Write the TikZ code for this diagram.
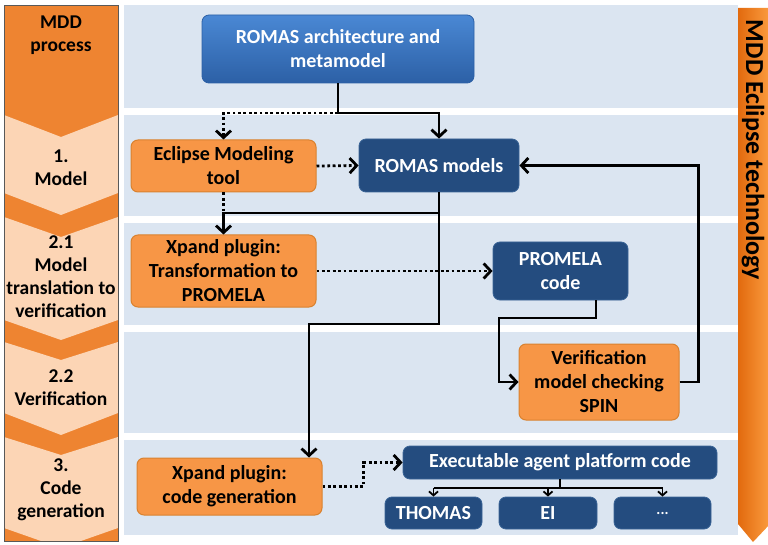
\documentclass[tikz,border=0pt]{standalone}
\usepackage{fontspec}
\setmainfont{Carlito}
\usetikzlibrary{arrows.meta}
\definecolor{lanec}{HTML}{DBE5F1}
\definecolor{colorange}{HTML}{EE8431}
\definecolor{peach}{HTML}{FCD5B5}
\definecolor{dkblue}{HTML}{244C7F}
\definecolor{dkblueb}{HTML}{3A6496}
\definecolor{orfill}{HTML}{F79646}
\definecolor{orborder}{HTML}{D98230}
\definecolor{bltop}{HTML}{4A88D4}
\definecolor{blbot}{HTML}{2C60A6}
\definecolor{bandL}{HTML}{E26A0E}
\definecolor{bandR}{HTML}{FB9C3F}
\begin{document}
\begin{tikzpicture}[x=1pt,y=-1pt,
  box/.style={rounded corners=7pt, inner sep=0pt, align=center, font=\bfseries\fontsize{20}{24}\selectfont},
  bluebox/.style={box, fill=dkblue, draw=dkblueb, line width=0.8pt, text=white},
  orbox/.style={box, fill=orfill, draw=orborder, line width=1pt, text=black},
  smallbox/.style={bluebox, font=\bfseries\fontsize{20}{22}\selectfont},
  solidcon/.style={line width=2.8pt, -{Straight Barb[length=7pt,width=15pt,line width=2.8pt]}},
  dotcon/.style={line width=2.8pt, dash pattern=on 2.8pt off 2.6pt},
  dotarrow/.style={dotcon, -{Straight Barb[length=7pt,width=15pt,line width=2.8pt]}},
  thincon/.style={line width=1.8pt},
  thinarrow/.style={line width=1.8pt, -{Straight Barb[length=4pt,width=9pt,line width=1.8pt]}},
  steptext/.style={align=center, font=\bfseries\fontsize{19.5}{23}\selectfont, text=black, inner sep=0pt}
]
\useasboundingbox (0,0) rectangle (768,545);
\fill[white] (0,0) rectangle (768,545);

% lanes
\fill[lanec] (124,5) rectangle (738,108);
\fill[lanec] (124,115) rectangle (738,216);
\fill[lanec] (124,223) rectangle (738,325);
\fill[lanec] (124,332) rectangle (738,433);
\fill[lanec] (124,440) rectangle (738,535);

% left process column
\begin{scope}
\clip (4,5) rectangle (118,541);
\fill[colorange] (4,5) rectangle (118,541);
\fill[peach] (4,115) -- (61,137) -- (118,115) -- (118,193) -- (61,215) -- (4,193) -- cycle;
\fill[peach] (4,217) -- (61,237) -- (118,217) -- (118,320) -- (61,340) -- (4,320) -- cycle;
\fill[peach] (4,342) -- (61,360) -- (118,342) -- (118,413) -- (61,435) -- (4,413) -- cycle;
\fill[peach] (4,437) -- (61,455) -- (118,437) -- (118,528) -- (61,548) -- (4,528) -- cycle;
\end{scope}
\draw[gray!70!black, line width=0.8pt] (4,5) rectangle (118,541);
\node[steptext] (s0) at (61,35) {MDD\\process};
\node[steptext] (s1) at (61,168) {1.\\Model};
\node[steptext] (s21) at (61,277) {2.1\\Model\\translation to\\verification};
\node[steptext] (s22) at (61,388) {2.2\\Verification};
\node[steptext] (s3) at (61,490) {3.\\Code\\generation};

% right banner
\shade[left color=bandL, right color=bandR] (738,8) -- (770,8) -- (770,524) -- (753,542) -- (738,524) -- cycle;
\node[rotate=-90, font=\bfseries\fontsize{26}{28}\selectfont, inner sep=0pt] (banner) at (753,150) {MDD Eclipse technology};

% nodes
\node[box, text=white, top color=bltop, bottom color=blbot, draw=blbot, line width=0.8pt,
      minimum width=272pt, minimum height=68pt] (arch) at (338,49) {ROMAS architecture and\\metamodel};
\node[orbox, minimum width=185pt, minimum height=52pt] (eclipse) at (223.5,166) {Eclipse Modeling\\tool};
\node[bluebox, minimum width=160pt, minimum height=53pt] (models) at (439,165.5) {ROMAS models};
\node[orbox, minimum width=185pt, minimum height=72pt] (xp1) at (223.5,271) {Xpand plugin:\\Transformation to\\PROMELA};
\node[bluebox, minimum width=135pt, minimum height=58pt] (promela) at (560.5,271) {PROMELA\\code};
\node[orbox, minimum width=160pt, minimum height=76pt] (verif) at (599,382) {Verification\\model checking\\SPIN};
\node[orbox, minimum width=185pt, minimum height=57pt] (xp2) at (229.5,486.5) {Xpand plugin:\\code generation};
\node[smallbox, minimum width=314pt, minimum height=33pt] (exec) at (560,462.5) {Executable agent platform code};
\node[smallbox, minimum width=97pt, minimum height=32pt] (thomas) at (433.5,513) {THOMAS};
\node[smallbox, minimum width=98pt, minimum height=32pt] (ei) at (548,513) {EI};
\node[smallbox, minimum width=97pt, minimum height=32pt, font=\bfseries\fontsize{15}{18}\selectfont] (more) at (662.5,513) {...};

% connectors
\coordinate (j1) at (338,113);
\coordinate (j2) at (223.5,213);
\coordinate (k1) at (309,324);
\coordinate (p1) at (596,318);
\coordinate (p2) at (499,318);
\draw[solidcon] (arch.south) -- (j1) -| (models.north);
\draw[dotarrow] (j1) -| (eclipse.north);
\draw[dotarrow] (eclipse.east) -- (models.west);
\draw[dotcon] (eclipse.south) -- (j2);
\draw[solidcon] (models.south) |- (j2) -- (xp1.north);
\draw[solidcon] (models.south) |- (k1) -- (k1 |- xp2.north);
\draw[dotarrow] (xp1.east) -- (promela.west);
\draw[solidcon] (p1 |- promela.south) -- (p1) -- (p2) |- (verif.west);
\draw[solidcon] (verif.east) -- ++(19,0) |- (models.east);
\draw[dotarrow] (xp2.east) -- ++(41,0) |- (exec.west);
\coordinate (e1) at (560,488);
\draw[thincon] (exec.south) -- (e1);
\draw[thincon] (e1 -| thomas.north) -- (e1 -| more.north);
\draw[thinarrow] (e1 -| thomas.north) -- (thomas.north);
\draw[thinarrow] (e1 -| ei.north) -- (ei.north);
\draw[thinarrow] (e1 -| more.north) -- (more.north);
\end{tikzpicture}
\end{document}
